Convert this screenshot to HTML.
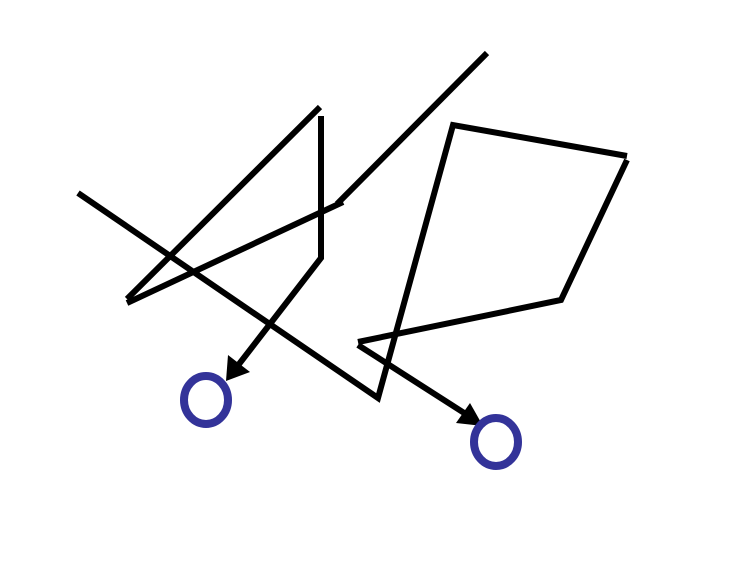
<!DOCTYPE html>
<html><head><meta charset="utf-8"><style>html,body{margin:0;padding:0;background:#fff;width:734px;height:562px;overflow:hidden}</style></head>
<body>
<svg id="c" width="734" height="562" viewBox="0 0 734 562" xmlns="http://www.w3.org/2000/svg">
<g id="strokes" stroke="#000" stroke-width="6" fill="none" stroke-linejoin="miter"></g>
<g id="marks"></g>
</svg>
<script>
const pathA = [[78,193],[378,398],[453,125],[627,156]];
const pathB = [[627,160],[561,300],[358,342]];
const pathC = [[487,53],[337,204]];
const pathD = [[343,202],[127,303]];
const pathE = [[127,299],[320,107]];
const pathF = [[321,116],[321,258],[236,368]];
const pathG = [[358,345],[472,418]];
const arrowTips = [[[226,381],[228,355],[250,372]],[[483,426],[456,423],[470,403]]];
const circles = [[206,400],[496,442]];
const ns = 'http://www.w3.org/2000/svg';
const g = document.getElementById('strokes');
const m = document.getElementById('marks');
[pathA,pathB,pathC,pathD,pathE,pathF,pathG].forEach(function(p){
  const el = document.createElementNS(ns,'polyline');
  el.setAttribute('points', p.map(function(q){return q.join(',');}).join(' '));
  
  
  g.appendChild(el);
});
arrowTips.forEach(function(t){
  const el = document.createElementNS(ns,'polygon');
  el.setAttribute('points', t.map(function(q){return q.join(',');}).join(' '));
  el.setAttribute('fill', '#000');
  
  
  m.appendChild(el);
});
circles.forEach(function(c){
  const el = document.createElementNS(ns,'ellipse');
  el.setAttribute('cx', c[0]); el.setAttribute('cy', c[1]);
  el.setAttribute('rx', 22); el.setAttribute('ry', 24);
  el.setAttribute('fill', 'none'); el.setAttribute('stroke', '#333399'); el.setAttribute('stroke-width', 8);
  
  
  m.appendChild(el);
});
</script>
</body></html>
